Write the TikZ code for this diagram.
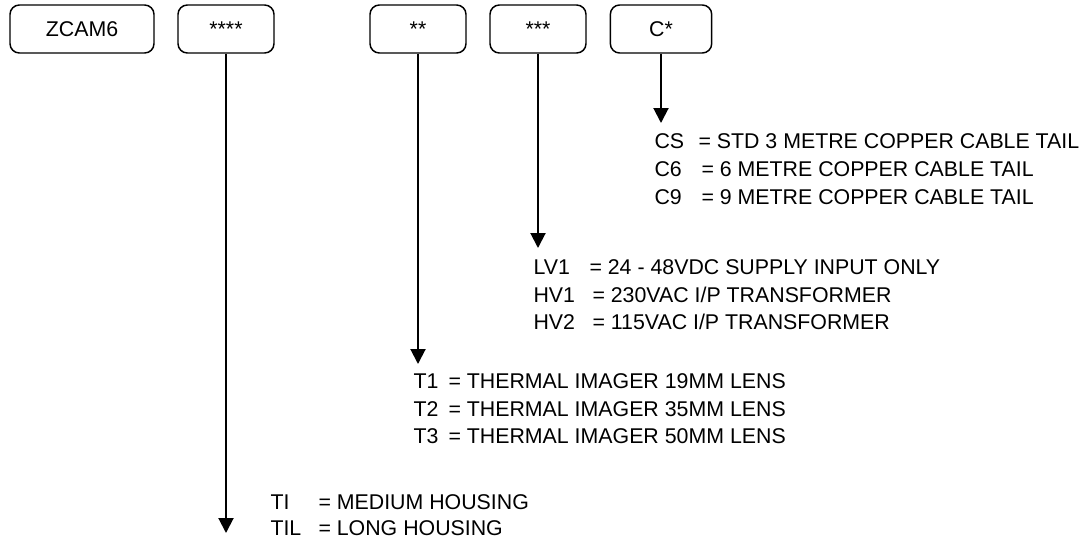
\documentclass[tikz,border=0pt]{standalone}
\usepackage{fontspec}
\setmainfont{Liberation Sans}
\usetikzlibrary{arrows.meta}

\tikzset{every picture/.style={line width=0.75pt}}
\tikzset{
  codebox/.style={draw, line width=1.1pt, rounded corners=7pt, minimum height=36pt, inner sep=0pt, font=\fontsize{16}{19}\selectfont},
  pick/.style={line width=1.5pt, -{Triangle[width=11.25pt,length=11.25pt]}},
  txt/.style={anchor=west, inner sep=0pt, font=\fontsize{16}{19}\selectfont}
}

\begin{document}
\begin{tikzpicture}[x=0.75pt,y=0.75pt,yscale=-1,xscale=1]
\useasboundingbox (0,0) rectangle (1092,540);

% Code boxes
\node [codebox, minimum width=108pt] (zcam) at (82,29) {ZCAM6};
\node [codebox, minimum width=72pt] (housing) at (226,29) {****};
\node [codebox, minimum width=72pt] (lens) at (418,29) {**};
\node [codebox, minimum width=72pt] (supply) at (538,29) {***};
\node [codebox, minimum width=76pt] (cable) at (661,29) {C*};

% Arrow ends
\coordinate (housingend) at (226,533);
\coordinate (lensend) at (418,364);
\coordinate (supplyend) at (538,248);
\coordinate (cableend) at (661,123);

\draw [pick] (housing.south) -- (housingend);
\draw [pick] (lens.south) -- (lensend);
\draw [pick] (supply.south) -- (supplyend);
\draw [pick] (cable.south) -- (cableend);

% Cable options
\node [txt] (cs) at (654,141) {CS};
\node [txt] (csd) at (698,141) {= STD 3 METRE COPPER CABLE TAIL};
\node [txt] (c6) at (654,169) {C6};
\node [txt] (c6d) at (701,169) {= 6 METRE COPPER CABLE TAIL};
\node [txt] (c9) at (654,197) {C9};
\node [txt] (c9d) at (701,197) {= 9 METRE COPPER CABLE TAIL};

% Supply options
\node [txt] (lv1) at (533,267) {LV1};
\node [txt] (lv1d) at (589,267) {= 24 - 48VDC SUPPLY INPUT ONLY};
\node [txt] (hv1) at (533,295) {HV1};
\node [txt] (hv1d) at (592,295) {= 230VAC I/P TRANSFORMER};
\node [txt] (hv2) at (533,322) {HV2};
\node [txt] (hv2d) at (592,322) {= 115VAC I/P TRANSFORMER};

% Lens options
\node [txt] (t1) at (413,381) {T1};
\node [txt] (t1d) at (448,381) {= THERMAL IMAGER 19MM LENS};
\node [txt] (t2) at (413,409) {T2};
\node [txt] (t2d) at (448,409) {= THERMAL IMAGER 35MM LENS};
\node [txt] (t3) at (413,436) {T3};
\node [txt] (t3d) at (448,436) {= THERMAL IMAGER 50MM LENS};

% Housing options
\node [txt] (ti) at (270,502) {TI};
\node [txt] (tid) at (318,502) {= MEDIUM HOUSING};
\node [txt] (til) at (270,528) {TIL};
\node [txt] (tild) at (318,528) {= LONG HOUSING};

\end{tikzpicture}
\end{document}
